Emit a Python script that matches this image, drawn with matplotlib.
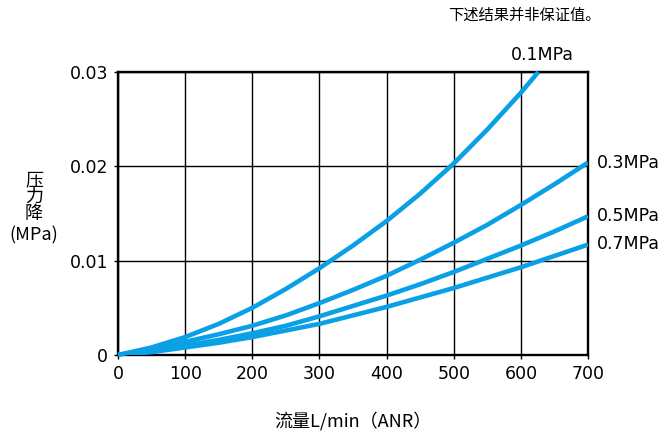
import matplotlib
matplotlib.use("Agg")
import matplotlib.pyplot as plt

plt.rcParams['font.family'] = ['DejaVu Sans', 'Noto Sans CJK SC']

# 流量 L/min(ANR)
flow = [0, 50, 100, 150, 200, 250, 300, 350, 400, 450, 500, 550, 600, 626]
# 压力降 MPa
p01 = [0, 0.0008, 0.0019, 0.0033, 0.0050, 0.0070, 0.0092, 0.0116, 0.0142, 0.0171, 0.0203, 0.0239, 0.0278, 0.0300]
flow2 = [0, 50, 100, 150, 200, 250, 300, 350, 400, 450, 500, 550, 600, 650, 700]
p03 = [0, 0.0006, 0.0014, 0.0022, 0.0031, 0.0042, 0.0055, 0.0069, 0.0084, 0.0101, 0.0119, 0.0138, 0.0159, 0.0181, 0.0204]
p05 = [0, 0.0004, 0.0010, 0.0016, 0.0023, 0.0031, 0.0041, 0.0052, 0.0063, 0.0075, 0.0088, 0.0102, 0.0116, 0.0131, 0.0147]
p07 = [0, 0.0003, 0.0008, 0.0013, 0.0019, 0.0026, 0.0033, 0.0042, 0.0051, 0.0061, 0.0071, 0.0082, 0.0093, 0.0105, 0.0117]

labels = ['0.1MPa', '0.3MPa', '0.5MPa', '0.7MPa']
blue = '#0aa0e6'
cjk = ['Noto Sans CJK SC', 'DejaVu Sans']

fig = plt.figure(figsize=(6.65, 4.37), dpi=100)
ax = fig.add_axes([118/665, 1-355/437, 470/665, 283/437])

ax.plot(flow, p01, color=blue, lw=3.3, solid_capstyle='butt', clip_on=False, zorder=3)
ax.plot(flow2, p03, color=blue, lw=3.3, solid_capstyle='butt', zorder=3)
ax.plot(flow2, p05, color=blue, lw=3.3, solid_capstyle='butt', zorder=3)
ax.plot(flow2, p07, color=blue, lw=3.3, solid_capstyle='butt', zorder=3)

ax.set_xlim(0, 700)
ax.set_ylim(0, 0.03)
ax.set_xticks(range(0, 701, 100))
ax.set_yticks([0, 0.01, 0.02, 0.03])
ax.set_yticklabels(['0', '0.01', '0.02', '0.03'])
ax.grid(True, color='black', lw=1)
for s in ax.spines.values():
    s.set_linewidth(1.7)
ax.tick_params(labelsize=12.5, length=3, width=1, pad=4)

# curve labels
ax.text(574/665, 1-55/437, labels[0], transform=fig.transFigure, ha='right', va='center', fontsize=12.5)
ax.text(597/665, 1-163/437, labels[1], transform=fig.transFigure, ha='left', va='center', fontsize=12.5)
ax.text(597/665, 1-216/437, labels[2], transform=fig.transFigure, ha='left', va='center', fontsize=12.5)
ax.text(597/665, 1-244/437, labels[3], transform=fig.transFigure, ha='left', va='center', fontsize=12.5)

fig.text(34/665, 1-197/437, '压\n力\n降', ha='center', va='center', fontsize=13,
         family=cjk, weight='medium', linespacing=0.92)
fig.text(34/665, 1-235/437, '(MPa)', ha='center', va='center', fontsize=13,
         family=cjk)
fig.text(353/665, 1-421/437, '流量L/min（ANR）', ha='center', va='center', fontsize=13,
         family=cjk)
fig.text(601/665, 1-15/437, '下述结果并非保证值。', ha='right', va='center', fontsize=11,
         family=cjk, weight='medium')

fig.savefig('out.png', dpi=100)
